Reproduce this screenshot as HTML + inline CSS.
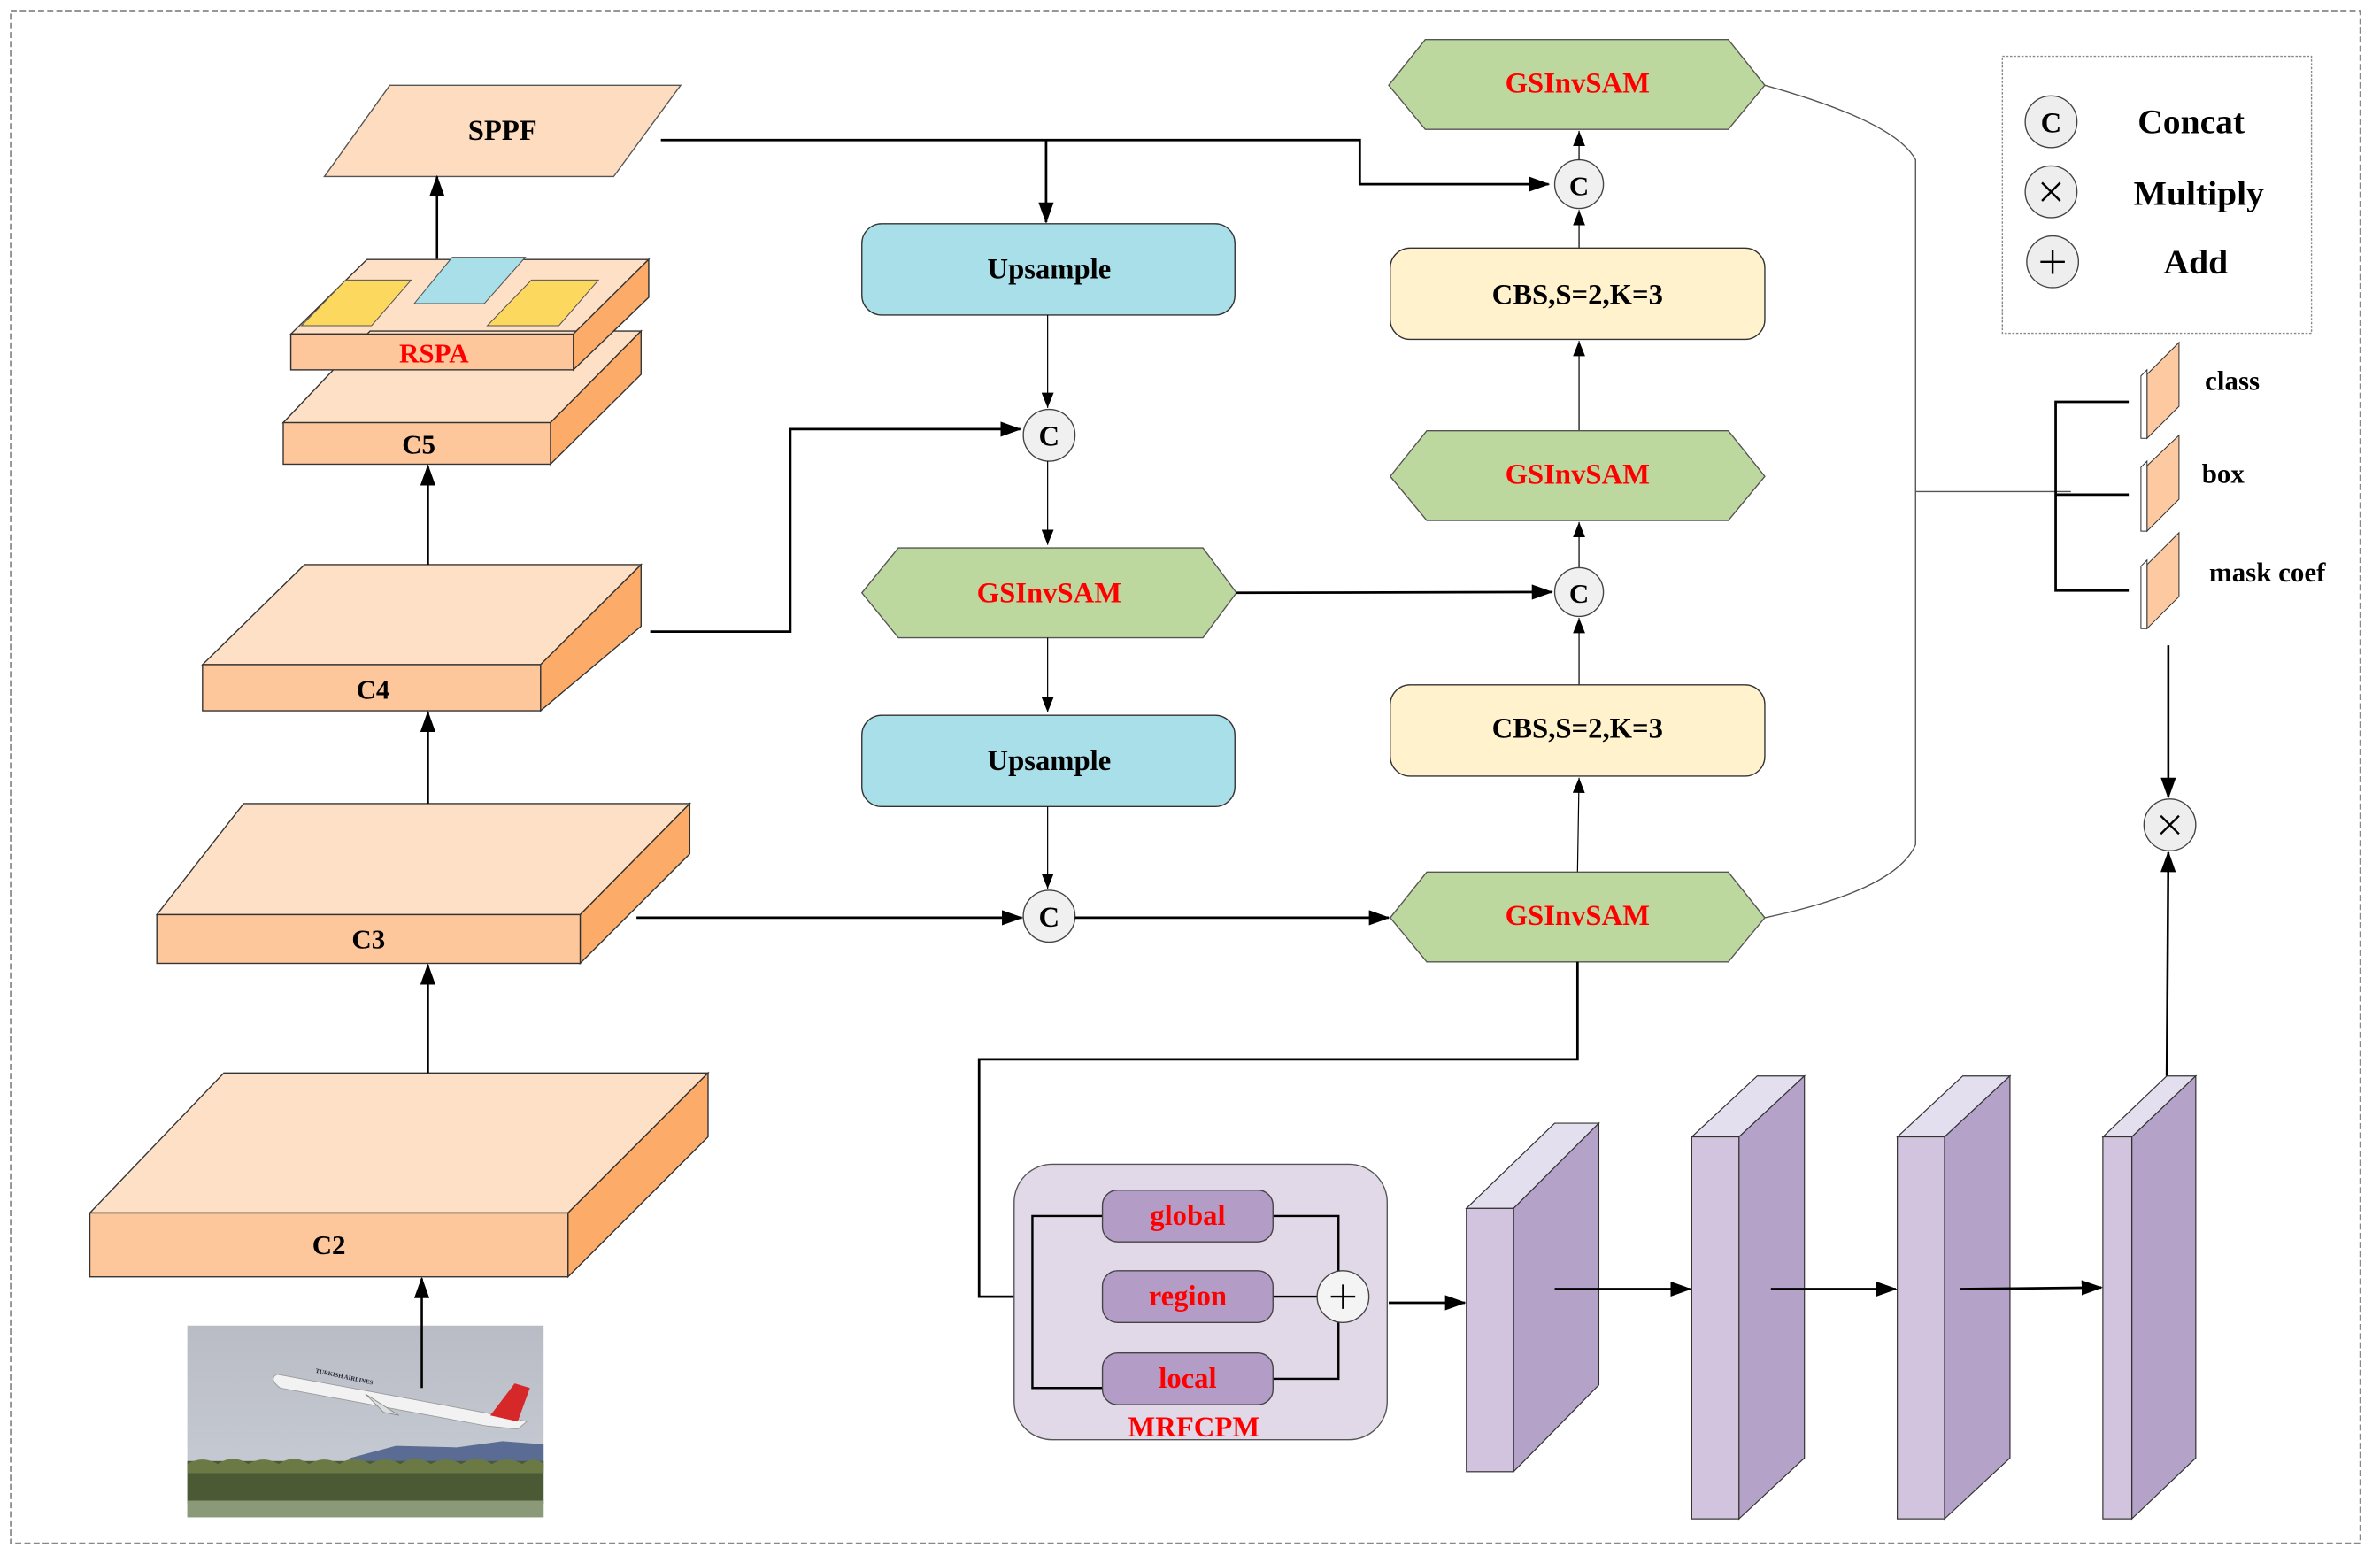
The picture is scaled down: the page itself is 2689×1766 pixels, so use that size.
<!DOCTYPE html>
<html><head><meta charset="utf-8"><style>
html,body{margin:0;padding:0;background:#fff}
svg{display:block}
text{font-family:"Liberation Serif",serif;font-weight:bold;text-anchor:middle;dominant-baseline:central}
</style></head><body>
<svg width="2689" height="1766" viewBox="0 0 1563 1027" preserveAspectRatio="none" xmlns="http://www.w3.org/2000/svg">
<defs>
<marker id="a" markerWidth="14" markerHeight="10" refX="13" refY="5" orient="auto" markerUnits="userSpaceOnUse"><path d="M0,0 L14,5 L0,10 Z" fill="#000"/></marker>
<marker id="s" markerWidth="10" markerHeight="8" refX="10" refY="4" orient="auto" markerUnits="userSpaceOnUse"><path d="M0,0 L10,4 L0,8 Z" fill="#000"/></marker>
<linearGradient id="sky" x1="0" y1="0" x2="0" y2="1"><stop offset="0" stop-color="#b9bcc4"/><stop offset="1" stop-color="#c9ced8"/></linearGradient>
</defs>
<rect x="7" y="7" width="1543" height="1007" fill="none" stroke="#888" stroke-width="1" stroke-dasharray="4,2"/>

<!-- SPPF -->
<polygon points="256,56 447,56 403,116 213,116" fill="#fddcc0" stroke="#555" stroke-width="0.8"/>
<text x="330" y="86" font-size="19">SPPF</text>

<!-- RSPA -->
<polygon points="191,219.5 241,170.5 426,170.5 376.5,219.5" fill="#fde0c5" stroke="#333" stroke-width="0.8"/>
<polygon points="376.5,219.5 426,170.5 426,195.4 376.5,243" fill="#fdab68" stroke="#333" stroke-width="0.8"/>
<rect x="191" y="219.5" width="185.5" height="23.5" fill="#fec69b" stroke="#333" stroke-width="0.8"/>
<polygon points="198,214 227,184 270,184 244,214" fill="#fdd85e" stroke="#555" stroke-width="0.6"/>
<polygon points="272,199.5 297,169 345,169 318,199.5" fill="#a8dfe9" stroke="#555" stroke-width="0.6"/>
<polygon points="320,214 349,184 393,184 367,214" fill="#fdd85e" stroke="#555" stroke-width="0.6"/>
<text x="285" y="232" font-size="18" fill="#f00">RSPA</text>

<!-- C5 -->
<polygon points="186,277.7 243,217.5 421,217.5 361.5,277.7" fill="#fde0c5" stroke="#333" stroke-width="0.8"/>
<polygon points="361.5,277.7 421,217.5 421,246 361.5,305" fill="#fdab68" stroke="#333" stroke-width="0.8"/>
<rect x="186" y="277.7" width="175.5" height="27.3" fill="#fec69b" stroke="#333" stroke-width="0.8"/>
<text x="275" y="292" font-size="18">C5</text>
<!-- re-draw RSPA front over C5 -->
<polygon points="376.5,219.5 426,170.5 426,195.4 376.5,243" fill="#fdab68" stroke="#333" stroke-width="0.8"/>
<rect x="191" y="219.5" width="185.5" height="23.5" fill="#fec69b" stroke="#333" stroke-width="0.8"/>
<text x="285" y="232" font-size="18" fill="#f00">RSPA</text>

<!-- C4 -->
<polygon points="133,436.7 200,371 421,371 355,436.7" fill="#fde0c5" stroke="#333" stroke-width="0.8"/>
<polygon points="355,436.7 421,371 421,411.5 355,467" fill="#fdab68" stroke="#333" stroke-width="0.8"/>
<rect x="133" y="436.7" width="222" height="30.3" fill="#fec69b" stroke="#333" stroke-width="0.8"/>
<text x="245" y="453" font-size="18">C4</text>

<!-- C3 -->
<polygon points="103,601 160,528 453,528 381,601" fill="#fde0c5" stroke="#333" stroke-width="0.8"/>
<polygon points="381,601 453,528 453,561 381,633" fill="#fdab68" stroke="#333" stroke-width="0.8"/>
<rect x="103" y="601" width="278" height="32" fill="#fec69b" stroke="#333" stroke-width="0.8"/>
<text x="242" y="617" font-size="18">C3</text>

<!-- C2 -->
<polygon points="59,797 147,705 465,705 373,797" fill="#fde0c5" stroke="#333" stroke-width="0.8"/>
<polygon points="373,797 465,705 465,747 373,839" fill="#fdab68" stroke="#333" stroke-width="0.8"/>
<rect x="59" y="797" width="314" height="42" fill="#fec69b" stroke="#333" stroke-width="0.8"/>
<text x="216" y="818" font-size="18">C2</text>

<!-- photo -->
<rect x="123" y="871" width="234" height="126" fill="url(#sky)"/>
<path d="M230,958 L260,950 L300,951 L330,947 L357,949 L357,965 L230,965 Z" fill="#5a6b94"/>
<rect x="123" y="960" width="234" height="28" fill="#4b5a35"/>
<path d="M123,962 q10,-6 20,0 q10,-7 20,0 q10,-6 20,0 q10,-7 20,0 q10,-6 20,0 q10,-7 20,0 q10,-6 20,0 q10,-7 20,0 q10,-6 20,0 q10,-7 20,0 q10,-6 20,0 q8,-6 14,0 v6 h-234z" fill="#6b7a45"/>
<rect x="123" y="986" width="234" height="11" fill="#8a9a78"/>
<path d="M182,903 L328,930 L346,934 L340,939 L320,937 L184,912 Q176,906 182,903 Z" fill="#f2f2f2" stroke="#999" stroke-width="0.5"/>
<path d="M322,930 L338,909 L348,912 L340,934 Z" fill="#d62828"/>
<path d="M240,916 L262,930 L252,928 Z" fill="#ddd" stroke="#888" stroke-width="0.5"/>
<text x="226" y="905" font-size="4" fill="#223" transform="rotate(12 226 905)">TURKISH AIRLINES</text>

<!-- left arrows -->
<line x1="277" y1="912" x2="277" y2="840" stroke="#000" stroke-width="1.5" marker-end="url(#a)"/>
<line x1="281" y1="705" x2="281" y2="634" stroke="#000" stroke-width="1.5" marker-end="url(#a)"/>
<line x1="281" y1="528" x2="281" y2="468" stroke="#000" stroke-width="1.5" marker-end="url(#a)"/>
<line x1="281" y1="371" x2="281" y2="306" stroke="#000" stroke-width="1.5" marker-end="url(#a)"/>
<line x1="287" y1="170" x2="287" y2="116" stroke="#000" stroke-width="1.5" marker-end="url(#a)"/>

<!-- SPPF connections -->
<polyline points="434,92 893,92 893,121 1017,121" fill="none" stroke="#000" stroke-width="1.6" marker-end="url(#a)"/>
<line x1="687" y1="92" x2="687" y2="146" stroke="#000" stroke-width="1.6" marker-end="url(#a)"/>

<!-- middle column -->
<rect x="566" y="147" width="245" height="60" rx="13" fill="#a8dfe9" stroke="#333" stroke-width="0.8"/>
<text x="689" y="177" font-size="19">Upsample</text>
<line x1="688" y1="207" x2="688" y2="268" stroke="#000" stroke-width="0.7" marker-end="url(#s)"/>
<circle cx="689" cy="286" r="17" fill="#f0f0f0" stroke="#444" stroke-width="0.8"/>
<text x="689" y="287" font-size="19">C</text>
<polyline points="427,415 519,415 519,282 670,282" fill="none" stroke="#000" stroke-width="1.6" marker-end="url(#a)"/>
<line x1="688" y1="303" x2="688" y2="358" stroke="#000" stroke-width="0.7" marker-end="url(#s)"/>
<polygon points="590,360 790,360 812,389.5 790,419 590,419 566,389.5" fill="#bdd89e" stroke="#555" stroke-width="0.8"/>
<text x="689" y="390" font-size="19" fill="#f00">GSInvSAM</text>
<line x1="812" y1="389.5" x2="1019" y2="389" stroke="#000" stroke-width="1.6" marker-end="url(#a)"/>
<line x1="688" y1="419" x2="688" y2="468" stroke="#000" stroke-width="0.7" marker-end="url(#s)"/>
<rect x="566" y="470" width="245" height="60" rx="13" fill="#a8dfe9" stroke="#333" stroke-width="0.8"/>
<text x="689" y="500" font-size="19">Upsample</text>
<line x1="688" y1="530" x2="688" y2="584" stroke="#000" stroke-width="0.7" marker-end="url(#s)"/>
<circle cx="689" cy="602" r="17" fill="#f0f0f0" stroke="#444" stroke-width="0.8"/>
<text x="689" y="603" font-size="19">C</text>
<line x1="418" y1="603" x2="671" y2="603" stroke="#000" stroke-width="1.6" marker-end="url(#a)"/>
<line x1="706" y1="603" x2="912" y2="603" stroke="#000" stroke-width="1.6" marker-end="url(#a)"/>

<!-- right column -->
<polygon points="936,26 1135,26 1159,56 1135,85 936,85 912,56" fill="#bdd89e" stroke="#555" stroke-width="0.8"/>
<text x="1036" y="55" font-size="19" fill="#f00">GSInvSAM</text>
<circle cx="1037" cy="121" r="16" fill="#f0f0f0" stroke="#444" stroke-width="0.8"/>
<text x="1037" y="122" font-size="18">C</text>
<line x1="1037" y1="105" x2="1037" y2="86" stroke="#000" stroke-width="0.7" marker-end="url(#s)"/>
<line x1="1037" y1="164" x2="1037" y2="138" stroke="#000" stroke-width="0.7" marker-end="url(#s)"/>
<rect x="913" y="163" width="246" height="60" rx="13" fill="#fff2cc" stroke="#333" stroke-width="0.8"/>
<text x="1036" y="194" font-size="19">CBS,S=2,K=3</text>
<line x1="1037" y1="283" x2="1037" y2="224" stroke="#000" stroke-width="0.7" marker-end="url(#s)"/>
<polygon points="937,283 1135,283 1159,313 1135,342 937,342 913,313" fill="#bdd89e" stroke="#555" stroke-width="0.8"/>
<text x="1036" y="312" font-size="19" fill="#f00">GSInvSAM</text>
<line x1="1037" y1="373" x2="1037" y2="343" stroke="#000" stroke-width="0.7" marker-end="url(#s)"/>
<circle cx="1037" cy="389" r="16" fill="#f0f0f0" stroke="#444" stroke-width="0.8"/>
<text x="1037" y="390" font-size="18">C</text>
<line x1="1037" y1="450" x2="1037" y2="406" stroke="#000" stroke-width="0.7" marker-end="url(#s)"/>
<rect x="913" y="450" width="246" height="60" rx="13" fill="#fff2cc" stroke="#333" stroke-width="0.8"/>
<text x="1036" y="479" font-size="19">CBS,S=2,K=3</text>
<line x1="1036" y1="573" x2="1037" y2="511" stroke="#000" stroke-width="0.7" marker-end="url(#s)"/>
<polygon points="937,573 1135,573 1159,603 1135,632 937,632 913,603" fill="#bdd89e" stroke="#555" stroke-width="0.8"/>
<text x="1036" y="602" font-size="19" fill="#f00">GSInvSAM</text>

<!-- bus curve -->
<path d="M1159,56 Q1245,80 1258,105 L1258,555 Q1245,585 1159,603" fill="none" stroke="#555" stroke-width="0.8"/>
<line x1="1258" y1="323" x2="1360" y2="323" stroke="#555" stroke-width="0.8"/>
<polyline points="1398,264 1350,264 1350,388 1398,388" fill="none" stroke="#000" stroke-width="1.6"/>
<line x1="1350" y1="325" x2="1398" y2="325" stroke="#000" stroke-width="1.6"/>

<!-- small slabs -->
<g stroke="#333" stroke-width="0.6">
<polygon points="1410,246 1431,225 1431,267 1410,288" fill="#fdc9a0"/>
<polygon points="1406,247 1410,243 1410,288 1406,288" fill="#fff"/>
<polygon points="1410,306 1431,286 1431,328 1410,349" fill="#fdc9a0"/>
<polygon points="1406,307 1410,303 1410,349 1406,349" fill="#fff"/>
<polygon points="1410,371 1431,350 1431,392 1410,413" fill="#fdc9a0"/>
<polygon points="1406,372 1410,368 1410,413 1406,413" fill="#fff"/>
</g>
<text x="1466" y="250" font-size="18">class</text>
<text x="1460" y="311" font-size="18">box</text>
<text x="1489" y="376" font-size="18">mask coef</text>

<!-- legend -->
<rect x="1315" y="37" width="203" height="182" fill="none" stroke="#888" stroke-width="0.8" stroke-dasharray="1.5,1"/>
<circle cx="1347" cy="80" r="17" fill="#eee" stroke="#444" stroke-width="0.8"/>
<text x="1347" y="81" font-size="19">C</text>
<circle cx="1347" cy="126" r="17" fill="#eee" stroke="#444" stroke-width="0.8"/>
<path d="M1341,120 L1353,132 M1353,120 L1341,132" stroke="#000" stroke-width="1.4"/>
<circle cx="1348" cy="172" r="17" fill="#eee" stroke="#444" stroke-width="0.8"/>
<path d="M1348,164 V180 M1340,172 H1356" stroke="#000" stroke-width="1.4"/>
<text x="1439" y="80" font-size="23">Concat</text>
<text x="1444" y="127" font-size="23">Multiply</text>
<text x="1442" y="172" font-size="23">Add</text>

<!-- multiply -->
<line x1="1424" y1="424" x2="1424" y2="524" stroke="#000" stroke-width="1.5" marker-end="url(#a)"/>
<circle cx="1425" cy="542" r="17" fill="#eee" stroke="#444" stroke-width="0.8"/>
<path d="M1419,536 L1431,548 M1431,536 L1419,548" stroke="#000" stroke-width="1.4"/>
<line x1="1423" y1="707" x2="1424" y2="560" stroke="#000" stroke-width="1.5" marker-end="url(#a)"/>

<!-- path to MRFCPM -->
<polyline points="1036,632 1036,696 643,696 643,852 724,852" fill="none" stroke="#000" stroke-width="1.6"/>

<!-- MRFCPM -->
<rect x="666" y="765" width="245" height="181" rx="25" fill="#e1d9e8" stroke="#555" stroke-width="0.8"/>
<polyline points="724,799 678,799 678,912 724,912" fill="none" stroke="#000" stroke-width="1.4"/>
<polyline points="836,799 879,799 879,836" fill="none" stroke="#000" stroke-width="1.4"/>
<polyline points="836,906 879,906 879,869" fill="none" stroke="#000" stroke-width="1.4"/>
<line x1="836" y1="852" x2="866" y2="852" stroke="#000" stroke-width="1.4"/>
<rect x="724" y="782" width="112" height="34" rx="10" fill="#b39dc6" stroke="#444" stroke-width="0.8"/>
<rect x="724" y="835" width="112" height="34" rx="10" fill="#b39dc6" stroke="#444" stroke-width="0.8"/>
<rect x="724" y="889" width="112" height="34" rx="10" fill="#b39dc6" stroke="#444" stroke-width="0.8"/>
<text x="780" y="799" font-size="19" fill="#f00">global</text>
<text x="780" y="852" font-size="19" fill="#f00">region</text>
<text x="780" y="906" font-size="19" fill="#f00">local</text>
<circle cx="882" cy="852" r="17" fill="#f4f4f4" stroke="#444" stroke-width="0.8"/>
<path d="M882,844 V860 M874,852 H890" stroke="#000" stroke-width="1.4"/>
<text x="784" y="938" font-size="19" fill="#f00">MRFCPM</text>
<line x1="912" y1="856" x2="962" y2="856" stroke="#000" stroke-width="1.6" marker-end="url(#a)"/>

<!-- purple slabs -->
<g stroke="#333" stroke-width="0.7">
<polygon points="963,794 1021,738 1050,738 994,794" fill="#e3dfee"/>
<polygon points="994,794 1050,738 1050,910 994,967" fill="#b5a2c8"/>
<rect x="963" y="794" width="31" height="173" fill="#d2c4de"/>
<polygon points="1111,747 1154,707 1185,707 1142,747" fill="#e3dfee"/>
<polygon points="1142,747 1185,707 1185,958 1142,998" fill="#b5a2c8"/>
<rect x="1111" y="747" width="31" height="251" fill="#d2c4de"/>
<polygon points="1246,747 1289,707 1320,707 1277,747" fill="#e3dfee"/>
<polygon points="1277,747 1320,707 1320,958 1277,998" fill="#b5a2c8"/>
<rect x="1246" y="747" width="31" height="251" fill="#d2c4de"/>
<polygon points="1381,747 1423,707 1442,707 1400,747" fill="#e3dfee"/>
<polygon points="1400,747 1442,707 1442,958 1400,998" fill="#b5a2c8"/>
<rect x="1381" y="747" width="19" height="251" fill="#d2c4de"/>
</g>
<line x1="1021" y1="847" x2="1110" y2="847" stroke="#000" stroke-width="1.6" marker-end="url(#a)"/>
<line x1="1163" y1="847" x2="1245" y2="847" stroke="#000" stroke-width="1.6" marker-end="url(#a)"/>
<line x1="1287" y1="847" x2="1380" y2="846" stroke="#000" stroke-width="1.6" marker-end="url(#a)"/>
</svg>
</body></html>
